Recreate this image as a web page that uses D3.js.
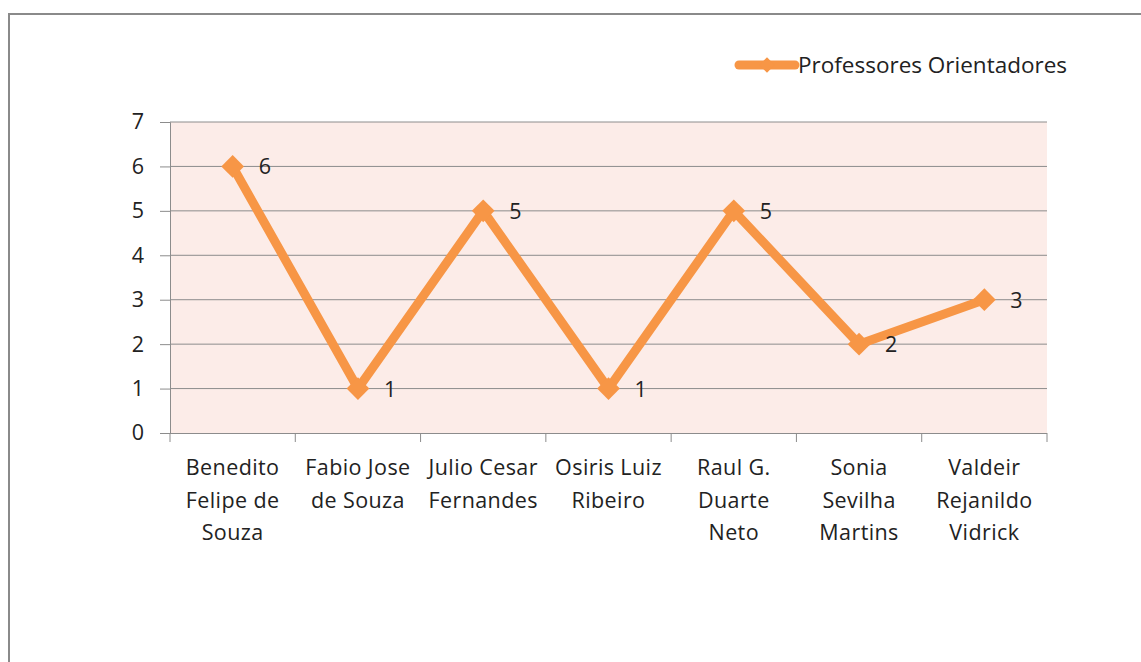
<!DOCTYPE html>
<html>
<head>
<meta charset="utf-8">
<script src="https://cdn.jsdelivr.net/npm/d3@7"></script>
<style>
  body { margin: 0; background: #fff; }
  text { font-family: "Open Sans", Lato, sans-serif; fill: #222; }
</style>
</head>
<body>
<div id="chart"></div>
<script>
// data
let professores = [
  ["Benedito", "Felipe de", "Souza"],
  ["Fabio Jose", "de Souza"],
  ["Julio Cesar", "Fernandes"],
  ["Osiris Luiz", "Ribeiro"],
  ["Raul G.", "Duarte", "Neto"],
  ["Sonia", "Sevilha", "Martins"],
  ["Valdeir", "Rejanildo", "Vidrick"]
]
let orientacoes = [6, 1, 5, 1, 5, 2, 3]
let yTicks = [0, 1, 2, 3, 4, 5, 6, 7]
let serieNome = "Professores Orientadores"

let W = 1141, H = 662
let mLeft = 170, mRight = 1047, mTop = 122, mBottom = 433
let laranja = "#F79646"
let fs = 21.5

let svg = d3.select("#chart")
  .append("svg")
  .attr("width", W)
  .attr("height", H)

// chart frame
svg.append("rect")
  .attr("x", 9).attr("y", 14)
  .attr("width", W + 10).attr("height", H + 10)
  .attr("fill", "none")
  .attr("stroke", "#8a8a8a")
  .attr("stroke-width", 2)

let ids = professores.map((d, i) => i)
let x = d3.scaleBand().domain(ids).range([mLeft, mRight])
let y = d3.scaleLinear().domain([0, 7]).range([mBottom, mTop])

// plot area
svg.append("rect")
  .attr("x", mLeft).attr("y", mTop)
  .attr("width", mRight - mLeft).attr("height", mBottom - mTop)
  .attr("fill", "#FCECE8")

// gridlines
svg.selectAll("line.grid")
  .data(yTicks.filter(t => t > 0))
  .enter()
  .append("line")
  .attr("class", "grid")
  .attr("x1", mLeft).attr("x2", mRight)
  .attr("y1", d => y(d)).attr("y2", d => y(d))
  .attr("stroke", "#8c8c8c")
  .attr("stroke-width", 1)

// y axis
let yAxis = svg.append("g")
  .attr("transform", `translate(${mLeft},0)`)
  .call(d3.axisLeft(y).tickValues(yTicks).tickFormat(d3.format("d")).tickSize(10).tickPadding(16))
yAxis.select(".domain").attr("stroke", "#8c8c8c")
yAxis.selectAll(".tick line").attr("stroke", "#8c8c8c")
yAxis.selectAll(".tick text")
  .style("font-size", fs + "px")
  .attr("fill", "#222")

// x axis
let xAxis = svg.append("g")
  .attr("transform", `translate(0,${mBottom})`)
  .call(d3.axisBottom(x).tickSize(0).tickFormat(""))
xAxis.select(".domain").attr("d", `M${mLeft},0.5H${mRight}`).attr("stroke", "#8c8c8c")

let bounds = ids.map(i => x(i)).concat([mRight])
svg.selectAll("line.xtick")
  .data(bounds)
  .enter()
  .append("line")
  .attr("class", "xtick")
  .attr("x1", d => d).attr("x2", d => d)
  .attr("y1", mBottom).attr("y2", mBottom + 9)
  .attr("stroke", "#8c8c8c")

// category labels, wrapped like the original
let cx = i => x(i) + x.bandwidth() / 2
let lab = svg.selectAll("text.cat")
  .data(professores)
  .enter()
  .append("text")
  .attr("class", "cat")
  .attr("text-anchor", "middle")
  .style("font-size", fs + "px")
  .style("letter-spacing", "0.4px")
lab.selectAll("tspan")
  .data((d, i) => d.map(s => ({ s: s, i: i })))
  .enter()
  .append("tspan")
  .attr("x", d => cx(d.i))
  .attr("y", (d, j) => 475 + j * 32.5)
  .text(d => d.s)

// line
let line = d3.line()
  .x((d, i) => cx(i))
  .y(d => y(d))

svg.append("path")
  .datum(orientacoes)
  .attr("d", line)
  .attr("fill", "none")
  .attr("stroke", laranja)
  .attr("stroke-width", 9)
  .attr("stroke-linejoin", "round")

// diamond markers
let diamond = d3.symbol().type(d3.symbolDiamond2).size(330)
svg.selectAll("path.mk")
  .data(orientacoes)
  .enter()
  .append("path")
  .attr("class", "mk")
  .attr("d", diamond)
  .attr("transform", (d, i) => `translate(${cx(i)},${y(d)})`)
  .attr("fill", laranja)

// value labels
svg.selectAll("text.val")
  .data(orientacoes)
  .enter()
  .append("text")
  .attr("class", "val")
  .attr("x", (d, i) => cx(i) + 26)
  .attr("y", d => y(d) + 8)
  .style("font-size", fs + "px")
  .text(d => d)

// legend
let lg = svg.append("g").attr("transform", "translate(737,65)")
lg.append("line")
  .attr("x1", 2).attr("x2", 58)
  .attr("stroke", laranja)
  .attr("stroke-width", 9)
  .attr("stroke-linecap", "round")
lg.append("path")
  .attr("d", d3.symbol().type(d3.symbolDiamond2).size(150))
  .attr("transform", "translate(30,0)")
  .attr("fill", laranja)
lg.append("text")
  .attr("x", 61).attr("y", 8)
  .style("font-size", "22.5px")
  .text(serieNome)
</script>
</body>
</html>
